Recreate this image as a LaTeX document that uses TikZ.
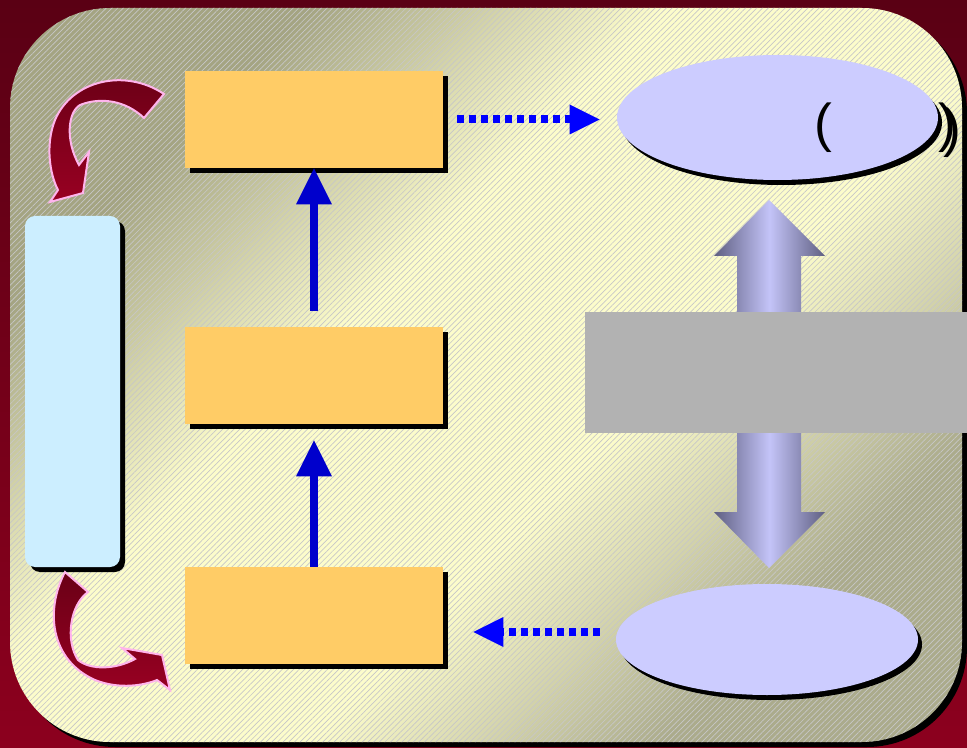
\documentclass[tikz,border=0pt]{standalone}
\usepackage{fontspec}
\setmainfont{Liberation Sans}
\usetikzlibrary{arrows.meta,shapes.geometric,shadows,patterns.meta,calc}
\definecolor{bgtop}{HTML}{5A0014}
\definecolor{bgbot}{HTML}{8C001E}
\definecolor{paneldark}{HTML}{A4A482}
\definecolor{panellight}{HTML}{FCFCCB}
\definecolor{paneldark2}{HTML}{ABAB8C}
\definecolor{boxorange}{HTML}{FFCC66}
\definecolor{boxblue}{HTML}{CCEEFF}
\definecolor{ellblue}{HTML}{CCCCFF}
\definecolor{bargray}{HTML}{B2B2B2}
\definecolor{arrblue}{HTML}{0000CC}
\definecolor{dotblue}{HTML}{0000FF}
\definecolor{dbldark}{HTML}{5F5F82}
\definecolor{dbllight}{HTML}{C4C4F8}
\definecolor{curvdark}{HTML}{6A0016}
\definecolor{curvlight}{HTML}{980022}
\definecolor{curvline}{HTML}{FFB4EC}
\pgfdeclareverticalshading{panelshade}{100bp}{color(0bp)=(paneldark2); color(27bp)=(paneldark2); color(42bp)=(panellight); color(58bp)=(panellight); color(73bp)=(paneldark); color(100bp)=(paneldark)}
\tikzset{
  blackshadow/.style={drop shadow={shadow xshift=3.75pt,shadow yshift=-3.75pt,fill=black,opacity=1}},
  orangebox/.style={rectangle,fill=boxorange,minimum width=193.5pt,minimum height=72.75pt,inner sep=0pt,blackshadow},
  sidebox/.style={rectangle,rounded corners=7.5pt,fill=boxblue,minimum width=71.25pt,minimum height=263.25pt,inner sep=0pt,blackshadow},
  ellnode/.style={ellipse,fill=ellblue,inner sep=0pt,drop shadow={shadow xshift=3pt,shadow yshift=-3.75pt,fill=black,opacity=1}},
  graybar/.style={rectangle,fill=bargray,minimum width=286.5pt,minimum height=90.75pt,inner sep=0pt},
  solidarrow/.style={draw=arrblue,line width=6pt,-{Triangle[length=27pt,width=27pt,line width=0pt]}},
  dotarrow/.style={draw=dotblue,line width=6pt,dash pattern=on 5.25pt off 3.75pt,-{Triangle[length=22.5pt,width=22.5pt,line width=0pt]}},
  curvarrow/.style={top color=curvdark,bottom color=curvlight,draw=curvline,line width=1.5pt,line join=miter},
  paren/.style={inner sep=0pt,text=black,font=\fontsize{40}{48}\selectfont}
}
\begin{document}
\begin{tikzpicture}[x=0.75pt,y=-0.75pt]
\useasboundingbox (0,0) rectangle (967,748);
% background
\shade[top color=bgtop,bottom color=bgbot] (0,0) rectangle (967,748);
% panel
\fill[black,rounded corners=75pt] (15,13) rectangle (967,747);
\shade[rounded corners=75pt,shading=panelshade,shading angle=45] (10,8) rectangle (962,742);
\fill[rounded corners=75pt,pattern={Lines[angle=45,distance=3pt,line width=0.5pt]},pattern color=black!22] (10,8) rectangle (962,742);
% boxes
\node[orangebox] (b1) at (314,119.5) {};
\node[orangebox] (b2) at (314,375.5) {};
\node[orangebox] (b3) at (314,615.5) {};
\node[sidebox] (sb) at (72.5,391.5) {};
% ellipses
\node[ellnode,minimum width=240.75pt,minimum height=93.75pt] (e1) at (777.5,117.5) {};
\node[ellnode,minimum width=226.5pt,minimum height=83.25pt] (e2) at (767,639.5) {};
\node[paren] (p1) at (823,128) {(};
\node[paren] (p3) at (952,133) {)};
\node[paren] (p2) at (947,128) {)};
% double arrow
\shade[left color=dbldark,right color=dbldark,middle color=dbllight]
  (769,200) -- (825,256) -- (801,256) -- (801,512) -- (825,512) -- (769,568)
  -- (714,512) -- (737,512) -- (737,256) -- (714,256) -- cycle;
\node[graybar] (gb) at (776,372.5) {};
% solid arrows
\draw[solidarrow,shorten <=12pt] (b2.north) -- (b1.south);
\draw[solidarrow,shorten >=12pt] (b3.north) -- (b2.south);
% dotted arrows
\draw[dotarrow,shorten <=10.5pt,shorten >=12.75pt] (b1.east) -- (b1.east -| e1.west);
\coordinate (q1) at ([yshift=5.625pt]e2.west);
\draw[dotarrow,shorten <=12pt,shorten >=22.5pt] (q1) -- (q1 -| b3.east);
% curved arrows
\path[curvarrow] (164,94) .. controls (125,68) and (72,80) .. (55,120)
  .. controls (45,145) and (50,175) .. (58,190) -- (50,202) -- (83,193) -- (89,152) -- (79,165)
  .. controls (65,140) and (68,112) .. (80,105) .. controls (100,97) and (125,100) .. (144,118) -- cycle;
\path[curvarrow] (65,572) .. controls (45,610) and (50,660) .. (95,680)
  .. controls (120,690) and (145,685) .. (157,680) -- (170,690) -- (162,655) -- (122,648) -- (135,659)
  .. controls (115,670) and (90,670) .. (78,660) .. controls (65,640) and (70,605) .. (88,592) -- cycle;
\end{tikzpicture}
\end{document}
